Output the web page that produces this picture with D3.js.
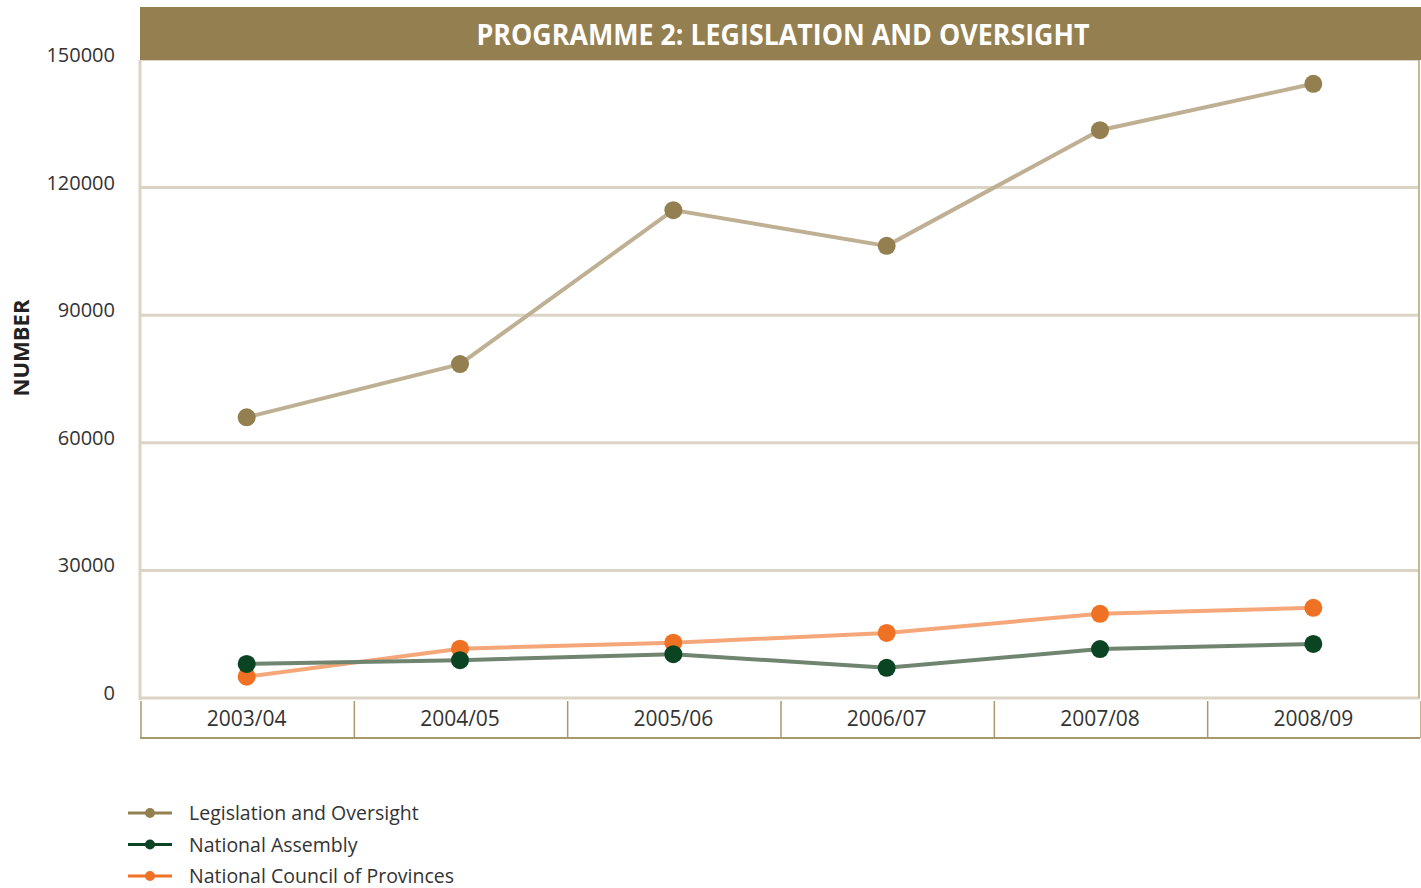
<!DOCTYPE html>
<html>
<head>
<meta charset="utf-8">
<script src="https://cdn.jsdelivr.net/npm/d3@7"></script>
<style>
  body { margin: 0; background: #fff; }
  #chart { width: 1421px; height: 888px; }
  text { font-family: "Open Sans", sans-serif; }
</style>
</head>
<body>
<div id="chart"></div>
<script>
//Datos
const years = ['2003/04','2004/05','2005/06','2006/07','2007/08','2008/09'];
const legislacion = [66000, 78500, 114700, 106300, 133500, 144400];
const asamblea = [8000, 8900, 10300, 7100, 11500, 12700];
const consejo = [5000, 11600, 13000, 15300, 19800, 21200];
const yTicks = [0, 30000, 60000, 90000, 120000, 150000];
const seriesNames = ['Legislation and Oversight','National Assembly','National Council of Provinces'];

//Colores
const COLOR_TAN = '#947f50', COLOR_TAN_LINE = '#bfb093',
COLOR_GREEN = '#0b4422', COLOR_GREEN_LINE = '#6f8570',
COLOR_ORANGE = '#ef7124', COLOR_ORANGE_LINE = '#f6a77a',
COLOR_GRID = '#dbd4c4', COLOR_BAND = '#a8996c';

let margin = {top: 60, right: 1, bottom: 190, left: 140},
    width = 1421 - margin.left - margin.right,
    height = 888 - margin.top - margin.bottom;

let svg = d3.select('#chart')
    .append('svg')
      .attr('width', 1421)
      .attr('height', 888);

let g = svg.append('g')
    .attr('transform', 'translate(' + margin.left + ',' + margin.top + ')');

let x = d3.scaleBand()
    .domain(years)
    .range([0, width]);

let y = d3.scaleLinear()
    .domain([0, 150000])
    .range([638, 0]);

//Barra de título
svg.append('rect')
    .attr('x', margin.left).attr('y', 7)
    .attr('width', 1421 - margin.left).attr('height', 53)
    .attr('fill', COLOR_TAN);

svg.append('text')
    .attr('x', margin.left + width / 2 + 3)
    .attr('y', 45)
    .attr('text-anchor', 'middle')
    .attr('fill', '#fff')
    .style('font-size', '28px')
    .style('font-weight', 'bold')
    .attr('textLength', 613)
    .attr('lengthAdjust', 'spacingAndGlyphs')
    .text('PROGRAMME 2: LEGISLATION AND OVERSIGHT');

//Rejilla
g.selectAll('.grid')
    .data(yTicks)
    .enter()
    .append('line')
      .attr('x1', 0).attr('x2', width)
      .attr('y1', d => y(d)).attr('y2', d => y(d))
      .attr('stroke', COLOR_GRID)
      .attr('stroke-width', d => d === 150000 ? 2 : 3);

//Eje izquierdo y borde derecho
g.append('line')
    .attr('x1', 0).attr('x2', 0)
    .attr('y1', 0).attr('y2', y(0) + 2)
    .attr('stroke', COLOR_GRID).attr('stroke-width', 3);

g.append('line')
    .attr('x1', width - 1).attr('x2', width - 1)
    .attr('y1', 0).attr('y2', y(0))
    .attr('stroke', '#c4b89c').attr('stroke-width', 2);

//Etiquetas eje Y
g.selectAll('.ylab')
    .data(yTicks)
    .enter()
    .append('text')
      .attr('x', -25)
      .attr('y', d => y(d) + 2)
      .attr('text-anchor', 'end')
      .attr('fill', '#333')
      .style('font-size', '20px')
      .text(d => d);

svg.append('text')
    .attr('transform', 'translate(29,348) rotate(-90)')
    .attr('text-anchor', 'middle')
    .attr('fill', '#222')
    .style('font-size', '22px')
    .style('font-weight', 'bold')
    .text('NUMBER');

//Banda eje X
let band = g.append('g')
    .attr('transform', 'translate(0,' + (y(0) + 3) + ')');

band.selectAll('.sep')
    .data(years.concat(['end']))
    .enter()
    .append('line')
      .attr('x1', (d, i) => i * x.bandwidth() + 1)
      .attr('x2', (d, i) => i * x.bandwidth() + 1)
      .attr('y1', 0).attr('y2', 37)
      .attr('stroke', COLOR_BAND).attr('stroke-width', 1.5);

band.append('line')
    .attr('x1', 0).attr('x2', width)
    .attr('y1', 37).attr('y2', 37)
    .attr('stroke', COLOR_BAND).attr('stroke-width', 2);

band.selectAll('.xlab')
    .data(years)
    .enter()
    .append('text')
      .attr('x', d => x(d) + x.bandwidth() / 2)
      .attr('y', 25)
      .attr('text-anchor', 'middle')
      .attr('fill', '#333')
      .style('font-size', '21px')
      .text(d => d);

//Series
let series = [
    {name: seriesNames[0], values: legislacion, color: COLOR_TAN, line: COLOR_TAN_LINE},
    {name: seriesNames[1], values: asamblea, color: COLOR_GREEN, line: COLOR_GREEN_LINE},
    {name: seriesNames[2], values: consejo, color: COLOR_ORANGE, line: COLOR_ORANGE_LINE}
];

let line = d3.line()
    .x((d, i) => x(years[i]) + x.bandwidth() / 2)
    .y(d => y(d));

//primero consejo, luego asamblea encima, luego legislación
[series[2], series[1], series[0]].forEach(function(s) {
    g.append('path')
        .datum(s.values)
        .attr('fill', 'none')
        .attr('stroke', s.line)
        .attr('stroke-width', 4)
        .attr('d', line);
});

[series[2], series[1], series[0]].forEach(function(s) {
    g.selectAll(null)
        .data(s.values)
        .enter()
        .append('circle')
          .attr('cx', (d, i) => x(years[i]) + x.bandwidth() / 2)
          .attr('cy', d => y(d))
          .attr('r', 9)
          .attr('fill', s.color);
});

//Leyenda
let legend = svg.append('g')
    .attr('transform', 'translate(128,813)');

legend.selectAll('g')
    .data(series)
    .enter()
    .append('g')
      .attr('transform', (d, i) => 'translate(0,' + (i * 31.5) + ')')
      .each(function(d) {
          let item = d3.select(this);
          item.append('line')
              .attr('x1', 0).attr('x2', 44)
              .attr('y1', 0).attr('y2', 0)
              .attr('stroke', d.color).attr('stroke-width', 3);
          item.append('circle')
              .attr('cx', 22).attr('cy', 0).attr('r', 5)
              .attr('fill', d.color);
          item.append('text')
              .attr('x', 61).attr('y', 7)
              .attr('fill', '#333')
              .style('font-size', '19.5px')
              .text(d.name);
      });
</script>
</body>
</html>
